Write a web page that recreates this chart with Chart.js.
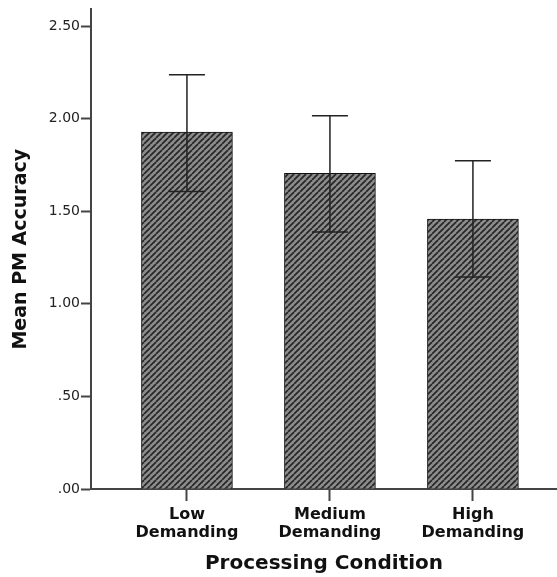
<!DOCTYPE html>
<html>
<head>
<meta charset="utf-8">
<script src="https://cdn.jsdelivr.net/npm/chart.js@4"></script>
<style>
  html, body { margin: 0; padding: 0; background: #fff; }
  #wrap { width: 557px; height: 577px; }
</style>
</head>
<body>
<div id="wrap"><canvas id="barChart"></canvas></div>
<script>
const categories = [['Low', 'Demanding'], ['Medium', 'Demanding'], ['High', 'Demanding']];
const meanAccuracy = [1.928, 1.705, 1.458];
const errLower = [1.607, 1.388, 1.145];
const errUpper = [2.237, 2.016, 1.773];
const yTicks = [0, 0.5, 1.0, 1.5, 2.0, 2.5];

// diagonal hatch like the SPSS fill
function hatch() {
    const c = document.createElement('canvas');
    c.width = 6; c.height = 6;
    const g = c.getContext('2d');
    g.fillStyle = '#8c8c8c';
    g.fillRect(0, 0, 6, 6);
    g.strokeStyle = '#262626';
    g.lineWidth = 1.7;
    for (let o = -6; o <= 6; o += 6) {
        g.beginPath();
        g.moveTo(o, 6);
        g.lineTo(o + 6, 0);
        g.stroke();
    }
    return g.createPattern(c, 'repeat');
}

const errorBars = {
    id: 'errorBars',
    afterDatasetsDraw(chart) {
        const ctx = chart.ctx;
        const x = chart.scales.x, y = chart.scales.y;
        ctx.save();
        ctx.strokeStyle = '#222';
        ctx.lineWidth = 1.5;
        meanAccuracy.forEach((v, i) => {
            const px = x.getPixelForValue(i);
            const lo = y.getPixelForValue(errLower[i]);
            const hi = y.getPixelForValue(errUpper[i]);
            ctx.beginPath();
            ctx.moveTo(px, lo); ctx.lineTo(px, hi);
            ctx.moveTo(px - 18, hi); ctx.lineTo(px + 18, hi);
            ctx.moveTo(px - 18, lo); ctx.lineTo(px + 18, lo);
            ctx.stroke();
        });
        ctx.restore();
    }
};

const ctx = document.getElementById('barChart').getContext('2d');
new Chart(ctx, {
    type: 'bar',
    data: {
        datasets: [{
            data: meanAccuracy.map((v, i) => ({ x: i, y: v })),
            backgroundColor: hatch(),
            borderColor: '#111',
            borderWidth: 1,
            barThickness: 91
        }]
    },
    options: {
        responsive: true,
        maintainAspectRatio: false,
        animation: false,
        layout: { padding: { top: 9, left: 0, right: 0, bottom: 0 } },
        plugins: {
            legend: { display: false },
            tooltip: { enabled: false }
        },
        scales: {
            x: {
                type: 'linear',
                offset: false,
                min: -0.671,
                max: 2.588,
                afterBuildTicks: s => { s.ticks = categories.map((c, i) => ({ value: i })); },
                afterFit: s => { s.height = 88; },
                grid: { display: true, offset: false, drawOnChartArea: false, drawTicks: true, tickLength: 12, tickColor: '#444', tickWidth: 2 },
                border: { color: '#444', width: 2 },
                ticks: {
                    callback: v => categories[v],
                    color: '#111',
                    padding: 5,
                    maxRotation: 0,
                    font: { family: 'DejaVu Sans', size: 16, weight: 'bold', lineHeight: 1.13 }
                },
                title: {
                    display: true,
                    text: 'Processing Condition',
                    color: '#111',
                    padding: { top: 0, bottom: 1 },
                    font: { family: 'DejaVu Sans', size: 20, weight: 'bold' }
                }
            },
            y: {
                min: 0,
                max: 2.59,
                afterBuildTicks: s => { s.ticks = yTicks.map(v => ({ value: v })); },
                afterFit: s => { s.width = 91; },
                grid: { display: true, drawOnChartArea: false, drawTicks: true, tickLength: 10, tickColor: '#444', tickWidth: 2 },
                border: { color: '#444', width: 2 },
                ticks: {
                    callback: v => v.toFixed(2).replace(/^0/, ''),
                    color: '#222',
                    padding: 1,
                    font: { family: 'DejaVu Sans', size: 14 }
                },
                title: {
                    display: true,
                    text: 'Mean PM Accuracy',
                    color: '#111',
                    padding: { top: 10, bottom: 0 },
                    font: { family: 'DejaVu Sans', size: 19, weight: 'bold' }
                }
            }
        }
    },
    plugins: [errorBars]
});
</script>
</body>
</html>
